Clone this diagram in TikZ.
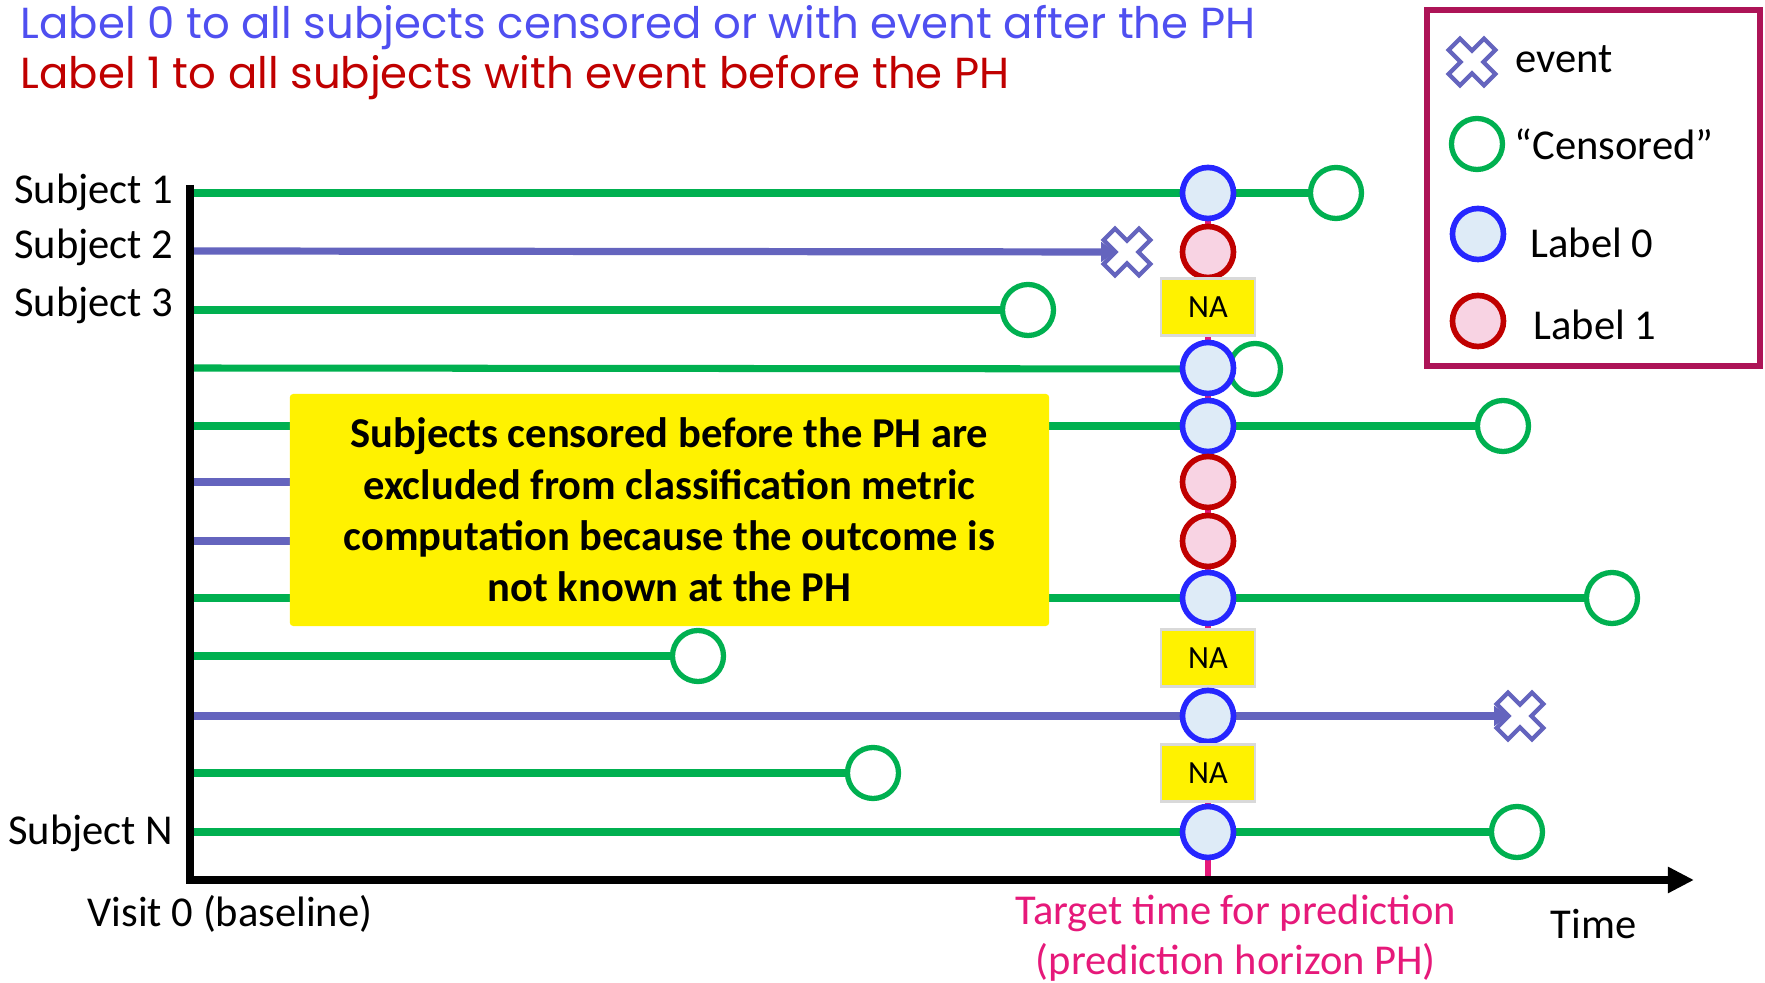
\documentclass[tikz,border=0pt]{standalone}
\usepackage{fontspec}
\setmainfont{Carlito}
\newfontfamily\titlefont{Poppins}
\usetikzlibrary{arrows.meta,backgrounds}
\definecolor{cgreen}{HTML}{00B050}
\definecolor{cpurple}{HTML}{6464BE}
\definecolor{cblue}{HTML}{2626FF}
\definecolor{cbluefill}{HTML}{DEEBF7}
\definecolor{cred}{HTML}{C00000}
\definecolor{credfill}{HTML}{F8D3E3}
\definecolor{ctitleblue}{HTML}{4F4FF0}
\definecolor{clegend}{HTML}{AD1457}
\definecolor{cph}{HTML}{E6197A}
\definecolor{cna}{HTML}{D9D9D9}
\tikzset{
  lab0/.style={circle, draw=cblue, fill=cbluefill, line width=1.6pt, minimum size=0.51cm, inner sep=0pt},
  lab1/.style={circle, draw=cred, fill=credfill, line width=1.6pt, minimum size=0.51cm, inner sep=0pt},
  cens/.style={circle, draw=cgreen, fill=white, line width=1.5pt, minimum size=0.51cm, inner sep=0pt},
  gline/.style={draw=cgreen, line width=2.0pt},
  pline/.style={draw=cpurple, line width=2.05pt},
  evtline/.style={pline, -{Triangle[length=4pt,width=5.5pt]}},
  nabox/.style={rectangle, fill=yellow, draw=cna, line width=0.6pt, minimum width=0.94cm, minimum height=0.57cm, inner sep=0pt, font=\fontsize{9.2}{11}\selectfont},
  evt/.style={circle, minimum size=0.22cm, inner sep=0pt},
  lbl/.style={inner sep=0pt, font=\fontsize{12.1}{14.5}\selectfont},
  ttl/.style={inner sep=0pt, anchor=base west, font=\titlefont\fontsize{12.35}{14}\selectfont},
  axisline/.style={line width=2.3pt, line join=miter, -{Triangle[length=7.4pt,width=7pt]}},
  phline/.style={draw=cph, line width=1.7pt},
  pics/xmark/.style={code={
    \draw[cpurple, fill=white, line width=1.2pt, line join=miter, rotate=45]
      (8,25)--(8,8)--(25,8)--(25,-8)--(8,-8)--(8,-25)--(-8,-25)--(-8,-8)--(-25,-8)--(-25,8)--(-8,8)--(-8,25)--cycle;}}
}
\begin{document}
\begin{tikzpicture}[x=0.01cm,y=-0.01cm]
\useasboundingbox (0,0) rectangle (1765,983);

% titles
\node[ttl, text=ctitleblue] (t1) at (20,39) {Label 0 to all subjects censored or with event after the PH};
\node[ttl, text=cred] (t2) at (20,89) {Label 1 to all subjects with event before the PH};

% legend
\node[draw=clegend, line width=1.5pt, minimum width=3.33cm, minimum height=3.56cm, inner sep=0pt] (legend) at (1593.5,188) {};
\pic (lx) at (1472,62) {xmark};
\node[cens] (lg) at (1477,144) {};
\node[lab0] (lb) at (1478,234) {};
\node[lab1] (lr) at (1478,321) {};
\node[lbl, anchor=base west] (tev) at (1515,73) {event};
\node[lbl, anchor=base west] (tcen) at (1514,160) {“Censored”};
\node[lbl, anchor=base west] (tl0) at (1530,258) {Label 0};
\node[lbl, anchor=base west] (tl1) at (1533,340) {Label 1};

% subject labels
\node[lbl, anchor=base east] (n1) at (174,204) {Subject 1};
\node[lbl, anchor=base east] (n2) at (174,259) {Subject 2};
\node[lbl, anchor=base east] (n3) at (174,317) {Subject 3};
\node[lbl, anchor=base east] (nN) at (174,845) {Subject N};

% axes
\coordinate (ytop) at (190,185);
\coordinate (orig) at (190,880);
\coordinate (xend) at (1694,880);
\coordinate (phb) at (1208,880);
\draw[axisline] (ytop) -- (orig) -- (xend);

% row start coordinates
\coordinate (s1) at (190,193);
\coordinate (s2) at (190,251);
\coordinate (s3) at (190,310);
\coordinate (s4) at (190,368);
\coordinate (s5) at (190,426);
\coordinate (s6) at (190,482);
\coordinate (s7) at (190,541);
\coordinate (s8) at (190,598);
\coordinate (s9) at (190,656);
\coordinate (s10) at (190,716);
\coordinate (s11) at (190,773);
\coordinate (s12) at (190,832);
\coordinate (h6) at (800,482);
\coordinate (h7) at (800,541);

% end markers
\node[cens] (g1) at (1336,193) {};
\node[evt] (e2) at (1127,252) {};
\node[cens] (g3) at (1028,310) {};
\node[cens] (g4) at (1255,369) {};
\node[cens] (g5) at (1503,426) {};
\node[cens] (g8) at (1612,598) {};
\node[cens] (g9) at (698,656) {};
\node[evt] (e10) at (1520,716) {};
\node[cens] (g11) at (873,773) {};
\node[cens] (g12) at (1517,832) {};

% PH column
\node[lab0] (p1) at (1208,193) {};
\node[lab1] (p2) at (1208,252) {};
\node[nabox] (na3) at (1208,307) {NA};
\node[lab0] (p4) at (1208,368) {};
\node[lab0] (p5) at (1208,426) {};
\node[lab1] (p6) at (1208,482) {};
\node[lab1] (p7) at (1208,541) {};
\node[lab0] (p8) at (1208,598) {};
\node[nabox] (na9) at (1208,658) {NA};
\node[lab0] (p10) at (1208,716) {};
\node[nabox] (na11) at (1208,773) {NA};
\node[lab0] (p12) at (1208,832) {};

% note box
\node[fill=yellow, rounded corners=1pt, minimum width=7.59cm, minimum height=2.32cm, inner sep=0pt, align=center,
      font=\bfseries\fontsize{12.1}{14.6}\selectfont] (note) at (669.5,510)
  {Subjects censored before the PH are\\excluded from classification metric\\computation because the outcome is\\not known at the PH};

% bottom labels
\node[lbl, anchor=base west] (visit) at (87,927) {Visit 0 (baseline)};
\node[lbl, anchor=base west] (time) at (1550,939) {Time};
\node[lbl, anchor=base, text=cph] (target1) at (1236,925) {Target time for prediction};
\node[lbl, anchor=base, text=cph] (target2) at (1236,975) {(prediction horizon PH)};

% lines behind
\begin{scope}[on background layer]
\draw[phline] (p1.center) -- (phb);
\draw[gline] (s1) -- (g1);
\draw[evtline] (s2) -- (e2);
\draw[gline] (s3) -- (g3);
\draw[gline] (s4) -- (g4.center);
\draw[gline] (s5) -- (g5);
\draw[pline] (s6) -- (h6);
\draw[pline] (s7) -- (h7);
\draw[gline] (s8) -- (g8);
\draw[gline] (s9) -- (g9);
\draw[evtline] (s10) -- (e10);
\draw[gline] (s11) -- (g11);
\draw[gline] (s12) -- (g12);
\end{scope}

% event marks on top
\pic (x2) at (e2) {xmark};
\pic (x10) at (e10) {xmark};
\end{tikzpicture}
\end{document}
